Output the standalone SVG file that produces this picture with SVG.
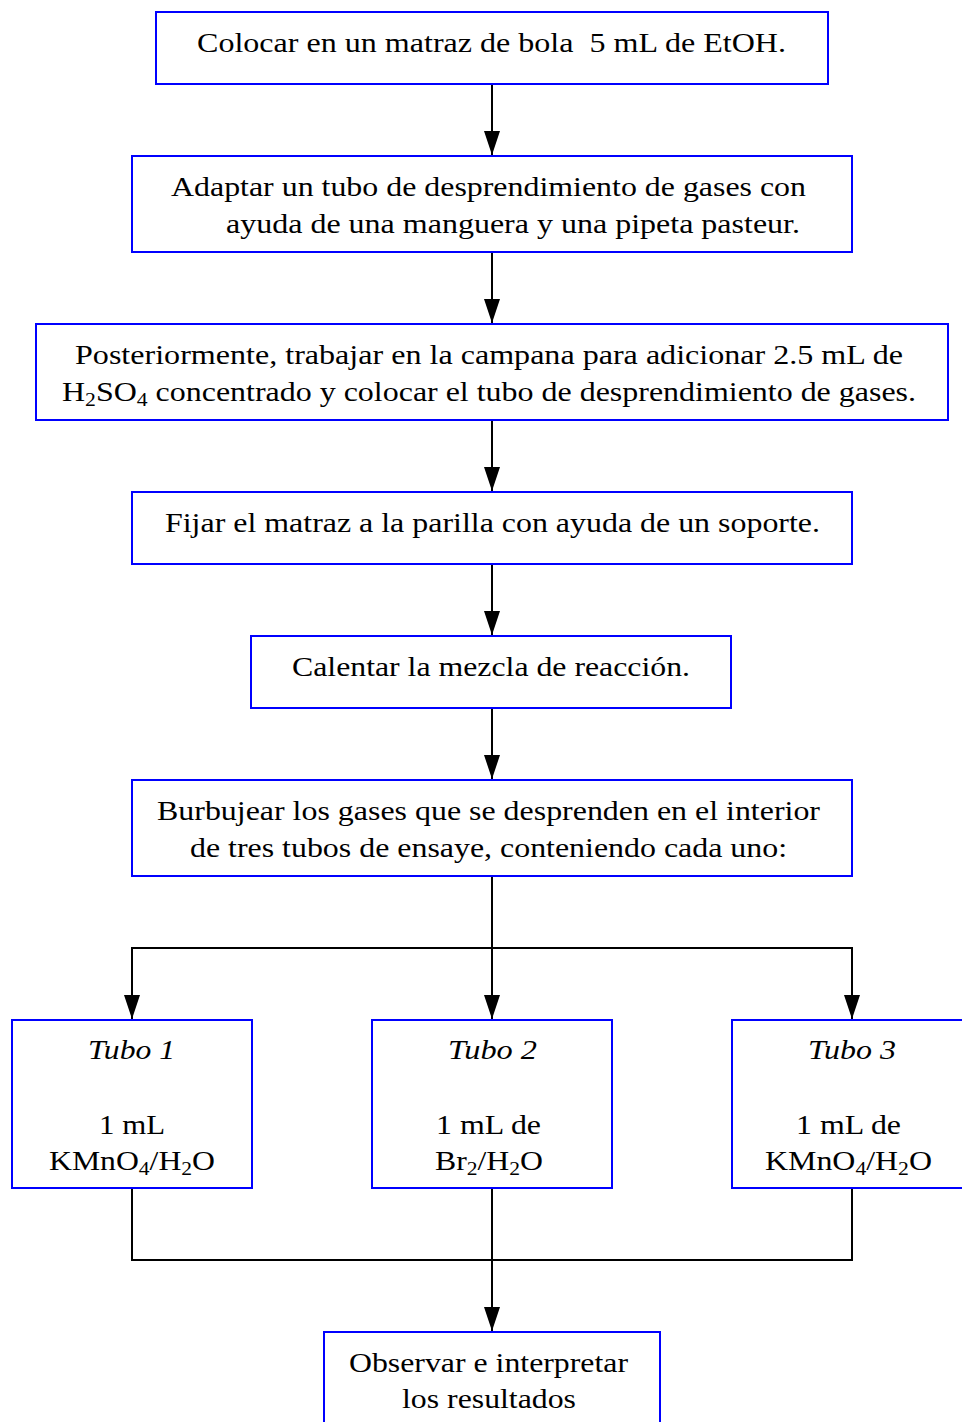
<svg xmlns="http://www.w3.org/2000/svg" width="962" height="1422" viewBox="0 0 962 1422">
<style>
.box{fill:#fff;stroke:#0000ff;stroke-width:2}
.t{font-family:"Liberation Serif","Times New Roman",serif;font-size:28px;fill:#000}
.i{font-style:italic}
.ln{fill:none;stroke:#000;stroke-width:2}
</style>
<defs>
<marker id="ah" markerWidth="24" markerHeight="16" refX="24" refY="8" orient="auto" markerUnits="userSpaceOnUse" viewBox="0 0 24 16">
<path d="M0,0 L24,8 L0,16 Z" fill="#000"/>
</marker>
</defs>
<rect width="962" height="1422" fill="#fff"/>
<g id="connectors">
<line class="ln" x1="492" y1="84" x2="492" y2="155" marker-end="url(#ah)"/>
<line class="ln" x1="492" y1="252" x2="492" y2="323" marker-end="url(#ah)"/>
<line class="ln" x1="492" y1="420" x2="492" y2="491" marker-end="url(#ah)"/>
<line class="ln" x1="492" y1="564" x2="492" y2="635" marker-end="url(#ah)"/>
<line class="ln" x1="492" y1="708" x2="492" y2="779" marker-end="url(#ah)"/>
<line class="ln" x1="492" y1="876" x2="492" y2="1019" marker-end="url(#ah)"/>
<polyline class="ln" points="132,990 132,948 852,948 852,990"/>
<line class="ln" x1="132" y1="980" x2="132" y2="1019" marker-end="url(#ah)"/>
<line class="ln" x1="852" y1="980" x2="852" y2="1019" marker-end="url(#ah)"/>
<polyline class="ln" points="132,1188 132,1260 852,1260 852,1188"/>
<line class="ln" x1="492" y1="1188" x2="492" y2="1331" marker-end="url(#ah)"/>
</g>
<g id="n1">
<rect class="box" x="156" y="12" width="672" height="72"/>
<text class="t" x="197" y="52" xml:space="preserve" textLength="589" lengthAdjust="spacingAndGlyphs">Colocar en un matraz de bola  5 mL de EtOH.</text>
</g>
<g id="n2">
<rect class="box" x="132" y="156" width="720" height="96"/>
<text class="t" x="171" y="196" textLength="635" lengthAdjust="spacingAndGlyphs">Adaptar un tubo de desprendimiento de gases con</text>
<text class="t" x="226" y="233" textLength="574" lengthAdjust="spacingAndGlyphs">ayuda de una manguera y una pipeta pasteur.</text>
</g>
<g id="n3">
<rect class="box" x="36" y="324" width="912" height="96"/>
<text class="t" x="75" y="364" textLength="828" lengthAdjust="spacingAndGlyphs">Posteriormente, trabajar en la campana para adicionar 2.5 mL de</text>
<text class="t" x="62" y="401" textLength="854" lengthAdjust="spacingAndGlyphs">H<tspan font-size="19" dy="5">2</tspan><tspan dy="-5">SO</tspan><tspan font-size="19" dy="5">4</tspan><tspan dy="-5"> concentrado y colocar el tubo de desprendimiento de gases.</tspan></text>
</g>
<g id="n4">
<rect class="box" x="132" y="492" width="720" height="72"/>
<text class="t" x="165" y="532" textLength="655" lengthAdjust="spacingAndGlyphs">Fijar el matraz a la parilla con ayuda de un soporte.</text>
</g>
<g id="n5">
<rect class="box" x="251" y="636" width="480" height="72"/>
<text class="t" x="292" y="676" textLength="398" lengthAdjust="spacingAndGlyphs">Calentar la mezcla de reacción.</text>
</g>
<g id="n6">
<rect class="box" x="132" y="780" width="720" height="96"/>
<text class="t" x="157" y="820" textLength="663" lengthAdjust="spacingAndGlyphs">Burbujear los gases que se desprenden en el interior</text>
<text class="t" x="190" y="857" textLength="597" lengthAdjust="spacingAndGlyphs">de tres tubos de ensaye, conteniendo cada uno:</text>
</g>
<g id="tubo1">
<rect class="box" x="12" y="1020" width="240" height="168"/>
<text class="t i" x="88" y="1059" textLength="87" lengthAdjust="spacingAndGlyphs">Tubo 1</text>
<text class="t" x="99" y="1134" textLength="66" lengthAdjust="spacingAndGlyphs">1 mL</text>
<text class="t" x="49" y="1170" textLength="166" lengthAdjust="spacingAndGlyphs">KMnO<tspan font-size="19" dy="5">4</tspan><tspan dy="-5">/H</tspan><tspan font-size="19" dy="5">2</tspan><tspan dy="-5">O</tspan></text>
</g>
<g id="tubo2">
<rect class="box" x="372" y="1020" width="240" height="168"/>
<text class="t i" x="448" y="1059" textLength="89" lengthAdjust="spacingAndGlyphs">Tubo 2</text>
<text class="t" x="436" y="1134" textLength="105" lengthAdjust="spacingAndGlyphs">1 mL de</text>
<text class="t" x="435" y="1170" textLength="108" lengthAdjust="spacingAndGlyphs">Br<tspan font-size="19" dy="5">2</tspan><tspan dy="-5">/H</tspan><tspan font-size="19" dy="5">2</tspan><tspan dy="-5">O</tspan></text>
</g>
<g id="tubo3">
<rect class="box" x="732" y="1020" width="240" height="168"/>
<text class="t i" x="808" y="1059" textLength="88" lengthAdjust="spacingAndGlyphs">Tubo 3</text>
<text class="t" x="796" y="1134" textLength="105" lengthAdjust="spacingAndGlyphs">1 mL de</text>
<text class="t" x="765" y="1170" textLength="167" lengthAdjust="spacingAndGlyphs">KMnO<tspan font-size="19" dy="5">4</tspan><tspan dy="-5">/H</tspan><tspan font-size="19" dy="5">2</tspan><tspan dy="-5">O</tspan></text>
</g>
<g id="n7">
<rect class="box" x="324" y="1332" width="336" height="110"/>
<text class="t" x="349" y="1372" textLength="279" lengthAdjust="spacingAndGlyphs">Observar e interpretar</text>
<text class="t" x="402" y="1408" textLength="174" lengthAdjust="spacingAndGlyphs">los resultados</text>
</g>
</svg>
